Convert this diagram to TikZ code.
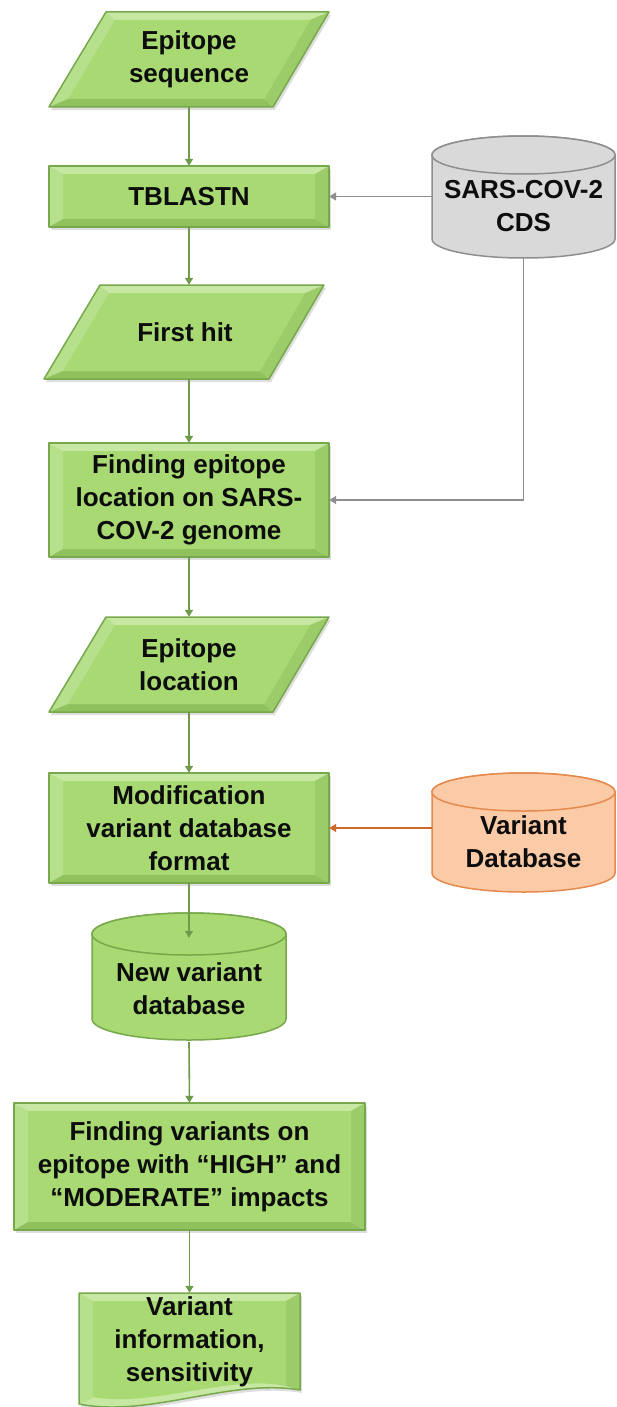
\documentclass[tikz,border=0pt]{standalone}
\usepackage{fontspec}
\setmainfont{Liberation Sans}
\usetikzlibrary{arrows.meta,calc}
\definecolor{gmid}{HTML}{A8D973}
\definecolor{gtop}{HTML}{C6E8A3}
\definecolor{gleft}{HTML}{B6E08B}
\definecolor{gbot}{HTML}{8FC15D}
\definecolor{gright}{HTML}{9CCB69}
\definecolor{gborder}{HTML}{77A84C}
\definecolor{garrow}{HTML}{6E9A4C}
\definecolor{grayfill}{HTML}{D9D9D9}
\definecolor{grayline}{HTML}{8E8E8E}
\definecolor{orfill}{HTML}{FBCBA8}
\definecolor{orline}{HTML}{E5894C}
\definecolor{orarrow}{HTML}{D0672B}
\definecolor{txt}{HTML}{0D0D0D}
\newcommand\bev[8]{%
  \fill[black,opacity=0.13] ([shift={(2,-3)}]#1) -- ([shift={(2,-3)}]#2) -- ([shift={(2,-3)}]#3) -- ([shift={(2,-3)}]#4) -- cycle;
  \fill[gtop] (#1) -- (#2) -- (#6) -- (#5) -- cycle;
  \fill[gleft] (#1) -- (#5) -- (#8) -- (#4) -- cycle;
  \fill[gbot] (#4) -- (#8) -- (#7) -- (#3) -- cycle;
  \fill[gright] (#2) -- (#3) -- (#7) -- (#6) -- cycle;
  \fill[gmid] (#5) -- (#6) -- (#7) -- (#8) -- cycle;
  \draw[gborder,line width=1.5pt,line join=round] (#1) -- (#2) -- (#3) -- (#4) -- cycle;
}
\newcommand\brect[4]{% x1 y1 x2 y2 (image coords, y down)
  \bev{#1,-#2}{#3,-#2}{#3,-#4}{#1,-#4}{#1+14,-#2-8}{#3-14,-#2-8}{#3-14,-#4+8}{#1+14,-#4+8}}
\newcommand\mycyl[6]{% xl yt xr yb ry style
  \pgfmathsetmacro\cx{(#1+#3)/2}\pgfmathsetmacro\rx{(#3-#1)/2}
  \filldraw[#6] (#1,-#2-#5) -- (#1,-#4+#5) arc[start angle=180,end angle=360,x radius=\rx,y radius=#5] -- (#3,-#2-#5) arc[start angle=0,end angle=180,x radius=\rx,y radius=#5] -- cycle;
  \draw[#6] (\cx,-#2-#5) ellipse[x radius=\rx,y radius=#5];
}
\tikzset{
  lbl/.style={align=center,inner sep=0pt,text=txt,font=\fontsize{26}{33}\selectfont\bfseries},
  garr/.style={draw=garrow,line width=1.6pt,-{Triangle[length=7pt,width=8pt]}},
  grarr/.style={draw=grayline,line width=1.6pt,-{Triangle[length=7pt,width=8pt]}},
  orarr/.style={draw=orarrow,line width=1.6pt,-{Triangle[length=7pt,width=8pt]}},
}
\begin{document}
\begin{tikzpicture}[x=1pt,y=1pt]
\useasboundingbox (0,0) rectangle (616,-1407);
\fill[white] (0,0) rectangle (616,-1407);
% shapes
\bev{106,-12}{329,-12}{273,-107}{49,-107}{115,-20}{310,-20}{264,-99}{68,-99}
\brect{49}{166}{329}{227}
\bev{100,-285}{324,-285}{269,-379}{44,-379}{109,-293}{305,-293}{260,-371}{63,-371}
\brect{49}{443}{329}{557}
\bev{106,-617}{329,-617}{273,-712}{49,-712}{115,-625}{310,-625}{264,-704}{68,-704}
\brect{49}{773}{329}{883}
\brect{14}{1103}{365}{1230}
% document shape
\fill[black,opacity=0.13,shift={(2,-3)}] (79,-1293) -- (300,-1293) -- (300,-1390) .. controls (230,-1378) and (150,-1418) .. (79,-1404) -- cycle;
\fill[gtop] (79,-1293) -- (300,-1293) -- (300,-1390) .. controls (230,-1378) and (150,-1418) .. (79,-1404) -- cycle;
\fill[gleft] (79,-1293) -- (93,-1301) -- (93,-1398) -- (79,-1404) -- cycle;
\fill[gright] (300,-1293) -- (286,-1301) -- (286,-1386) -- (300,-1390) -- cycle;
\fill[gmid] (93,-1301) -- (286,-1301) -- (286,-1386) .. controls (230,-1374) and (150,-1408) .. (93,-1397) -- cycle;
\draw[gborder,line width=1.5pt,line join=round] (79,-1293) -- (300,-1293) -- (300,-1390) .. controls (230,-1378) and (150,-1418) .. (79,-1404) -- cycle;
% cylinders
\mycyl{432}{136}{615}{258}{19}{fill=grayfill,draw=grayline,line width=1.5pt}
\mycyl{432}{773}{615}{892}{19}{fill=orfill,draw=orline,line width=1.5pt}
\mycyl{92}{913}{286}{1040}{21}{fill=gmid,draw=gborder,line width=1.5pt}
% nodes
\node[lbl,minimum width=280,minimum height=95] (p1) at (189,-59.5) {Epitope\\sequence};
\node[lbl,minimum width=280,minimum height=61] (r1) at (189,-196.5) {TBLASTN};
\node[lbl,minimum width=280,minimum height=94] (p2) at (185,-332) {First hit};
\node[lbl,minimum width=280,minimum height=114] (r2) at (189,-500) {Finding epitope\\location on SARS-\\COV-2 genome};
\node[lbl,minimum width=280,minimum height=95] (p3) at (189,-664.5) {Epitope\\location};
\node[lbl,minimum width=280,minimum height=110] (r3) at (189,-828) {Modification\\variant database\\format};
\node[lbl,minimum width=194,minimum height=106] (ndb) at (189,-989) {New variant\\database};
\node[lbl,minimum width=351,minimum height=127] (r4) at (189.5,-1166.5) {Finding variants on\\epitope with “HIGH” and\\“MODERATE” impacts};
\node[lbl,minimum width=221,minimum height=97] (doc) at (189.5,-1341.5) {Variant\\information,\\sensitivity};
\node[lbl,minimum width=183,minimum height=103] (sars) at (523.5,-206.5) {SARS-COV-2\\CDS};
\node[lbl,minimum width=183,minimum height=100] (vdb) at (523.5,-842) {Variant\\Database};
% connectors
\draw[garr] (p1.south) -- (r1.north);
\draw[garr] (r1.south) -- (r1.south |- p2.north);
\draw[garr] (r1.south |- p2.south) -- (r2.north);
\draw[garr] (r2.south) -- (p3.north);
\draw[garr] (p3.south) -- (r3.north);
\draw[garr] (r3.south) -- ([yshift=-2pt]ndb.north);
\draw[garr] (ndb.south) -- (r4.north);
\draw[garr] (r4.south) -- (doc.north);
\draw[grarr] (sars.west |- r1.east) -- (r1.east);
\draw[grarr] (sars.south) |- (r2.east);
\draw[orarr] (vdb.west |- r3.east) -- (r3.east);
\end{tikzpicture}
\end{document}
